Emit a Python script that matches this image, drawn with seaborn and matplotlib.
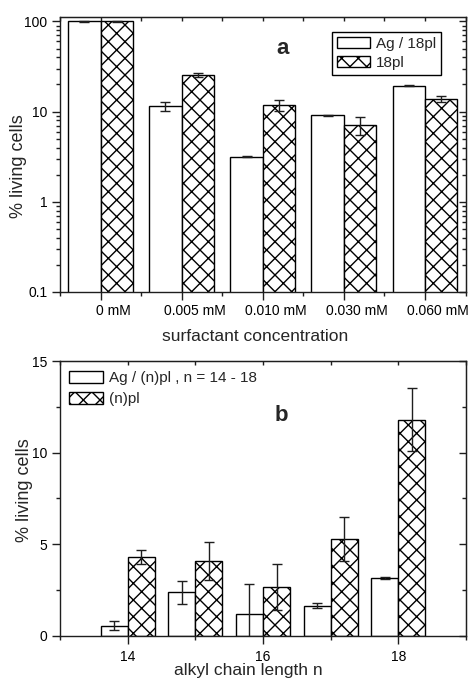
import matplotlib
matplotlib.use("Agg")
import matplotlib.pyplot as plt
import matplotlib.transforms as mtransforms
from matplotlib.patches import Patch
from matplotlib.ticker import FixedLocator, LogLocator, FuncFormatter, NullFormatter
import pandas as pd
import seaborn as sns

sns.set_style("ticks")
plt.rcParams["font.family"] = ["Liberation Sans", "DejaVu Sans"]
plt.rcParams["hatch.linewidth"] = 1.0
plt.rcParams["hatch.color"] = "black"

# Panel a: viability vs. surfactant concentration (log scale)
conc_labels = ["0 mM", "0.005 mM", "0.010 mM", "0.030 mM", "0.060 mM"]
series_a = ["Ag / 18pl", "18pl"]
ag18_mean = [100, 11.5, 3.17, 9.1, 19.4]
ag18_err = [1.5, 1.3, 0.05, 0.08, 0.2]
pl18_mean = [100, 25.5, 11.8, 7.1, 13.8]
pl18_err = [1.5, 1.0, 1.7, 1.6, 1.1]

# Panel b: viability vs. alkyl chain length
chain_n = [14, 15, 16, 17, 18]
series_b = ["Ag / (n)pl , n = 14 - 18", "(n)pl"]
agn_mean = [0.55, 2.37, 1.17, 1.64, 3.15]
agn_err = [0.23, 0.63, 1.64, 0.12, 0.04]
pln_mean = [4.28, 4.08, 2.64, 5.28, 11.8]
pln_err = [0.38, 1.06, 1.26, 1.20, 1.73]

df_a = pd.DataFrame({
    "conc": conc_labels * 2,
    "series": [series_a[0]] * 5 + [series_a[1]] * 5,
    "value": ag18_mean + pl18_mean,
})
df_b = pd.DataFrame({
    "n": chain_n * 2,
    "series": [series_b[0]] * 5 + [series_b[1]] * 5,
    "value": agn_mean + pln_mean,
})

INK = "#1e1e1e"
HATCH = "xx"

fig = plt.figure(figsize=(4.7, 6.8), dpi=100)
ax_a = fig.add_axes([0.1277, 0.5706, 0.8638, 0.4044])
ax_b = fig.add_axes([0.1277, 0.0651, 0.8638, 0.4040])


def draw_bars(ax, data, x, order, hue_order, means, errs, native):
    kw = dict(data=data, x=x, y="value", hue="series", hue_order=hue_order,
              palette=["white", "white"], saturation=1, edgecolor="black",
              linewidth=1, width=0.8, errorbar=None, legend=False, ax=ax)
    if native:
        kw["native_scale"] = True
    else:
        kw["order"] = order
    sns.barplot(**kw)
    for bar in ax.containers[1]:
        bar.set_hatch(HATCH)
    for cont, m, e in zip(ax.containers, means, errs):
        xs = [b.get_x() + b.get_width() / 2 for b in cont]
        ax.errorbar(xs, m, yerr=e, fmt="none", ecolor=INK, elinewidth=1,
                    capsize=3.5, capthick=1, zorder=5)


def style_frame(ax):
    for sp in ax.spines.values():
        sp.set_visible(True)
        sp.set_color(INK)
        sp.set_linewidth(1)


def style_ticks(ax, xpad):
    ax.tick_params(axis="both", which="major", direction="out", length=5.5,
                   width=1, color=INK, labelsize=10, labelcolor="black")
    ax.tick_params(axis="both", which="minor", direction="out", length=2.8,
                   width=1, color=INK)
    ax.tick_params(axis="y", which="major", pad=3.6)
    ax.tick_params(axis="x", which="major", pad=xpad)


def legend_handles():
    return [Patch(facecolor="white", edgecolor="black", linewidth=1),
            Patch(facecolor="white", edgecolor="black", linewidth=1, hatch=HATCH)]


# ---------------- panel a ----------------
draw_bars(ax_a, df_a, "conc", conc_labels, series_a,
          [ag18_mean, pl18_mean], [ag18_err, pl18_err], native=False)
ax_a.set_yscale("log")
ax_a.set_ylim(0.1, 112)
ax_a.set_xlim(-0.494, 4.506)
style_frame(ax_a)

ax_a.yaxis.set_major_locator(FixedLocator([0.1, 1, 10, 100]))
ax_a.yaxis.set_major_formatter(FuncFormatter(lambda v, p: f"{v:g}"))
ax_a.yaxis.set_minor_locator(LogLocator(subs=range(2, 10)))
ax_a.yaxis.set_minor_formatter(NullFormatter())
ax_a.set_xticks(range(5))
ax_a.set_xticklabels(conc_labels)
ax_a.set_xticks([i - 0.5 for i in range(6)], minor=True)
style_ticks(ax_a, xpad=2.8)
shift = mtransforms.ScaledTranslation(0.13, 0, fig.dpi_scale_trans)
for lab in ax_a.get_xticklabels():
    lab.set_transform(lab.get_transform() + shift)

sec = ax_a.secondary_yaxis("right")
sec.yaxis.set_major_locator(FixedLocator([0.1, 1, 10, 100]))
sec.yaxis.set_minor_locator(LogLocator(subs=range(2, 10)))
sec.tick_params(which="both", direction="in", labelright=False, width=1, color=INK)
sec.tick_params(which="major", length=5)
sec.tick_params(which="minor", length=3)
sec.spines["right"].set_color(INK)
sec_t = ax_a.secondary_xaxis("top")
sec_t.set_xticks(range(5))
sec_t.set_xticks([i - 0.5 for i in range(6)], minor=True)
sec_t.tick_params(which="both", direction="in", labeltop=False, length=3, width=1, color=INK)
sec_t.spines["top"].set_color(INK)

ax_a.set_xlabel("surfactant concentration", fontsize=12.5)
ax_a.set_ylabel("% living cells", fontsize=13)
ax_a.xaxis.set_label_coords(0.48, -0.135)
ax_a.yaxis.set_label_coords(-0.081, 0.458)
ax_a.text(0.549, 0.885, "a", transform=ax_a.transAxes, ha="center", va="center",
          fontsize=16, fontweight="bold")
leg_a = ax_a.legend(legend_handles(), series_a, loc="upper left",
                    bbox_to_anchor=(0.670, 0.945), frameon=True, fancybox=False,
                    edgecolor="black", framealpha=1, fontsize=11,
                    handlelength=2.2, handleheight=0.75, handletextpad=0.4,
                    borderaxespad=0, borderpad=0.3, labelspacing=0.36)
leg_a.get_frame().set_linewidth(1)

# ---------------- panel b ----------------
draw_bars(ax_b, df_b, "n", None, series_b,
          [agn_mean, pln_mean], [agn_err, pln_err], native=True)
ax_b.set_xlim(13, 19)
ax_b.set_ylim(0, 15)
style_frame(ax_b)
ax_b.set_xticks([14, 16, 18])
ax_b.set_xticklabels(["14", "16", "18"])
ax_b.set_xticks([13, 15, 17, 19], minor=True)
ax_b.set_yticks([0, 5, 10, 15])
ax_b.set_yticklabels(["0", "5", "10", "15"])
ax_b.set_yticks([2.5, 7.5, 12.5], minor=True)
style_ticks(ax_b, xpad=5)

sec_b = ax_b.secondary_yaxis("right")
sec_b.set_yticks([0, 5, 10, 15])
sec_b.set_yticks([2.5, 7.5, 12.5], minor=True)
sec_b.tick_params(which="both", direction="in", labelright=False, width=1, color=INK)
sec_b.tick_params(which="major", length=5)
sec_b.tick_params(which="minor", length=3)
sec_b.spines["right"].set_color(INK)
sec_bt = ax_b.secondary_xaxis("top")
sec_bt.set_xticks([14, 16, 18])
sec_bt.set_xticks([13, 15, 17, 19], minor=True)
sec_bt.tick_params(which="both", direction="in", labeltop=False, length=3, width=1, color=INK)
sec_bt.spines["top"].set_color(INK)

ax_b.set_xlabel("alkyl chain length n", fontsize=12.5)
ax_b.set_ylabel("% living cells", fontsize=13)
ax_b.xaxis.set_label_coords(0.463, -0.100)
ax_b.yaxis.set_label_coords(-0.066, 0.53)
ax_b.text(0.544, 0.80, "b", transform=ax_b.transAxes, ha="center", va="center",
          fontsize=16, fontweight="bold")
leg_b = ax_b.legend(legend_handles(), series_b, loc="upper left",
                    bbox_to_anchor=(0.009, 0.982), frameon=False, fontsize=11,
                    handlelength=2.2, handleheight=0.75, handletextpad=0.4,
                    borderaxespad=0, borderpad=0.35, labelspacing=0.46)

fig.savefig("out.png", dpi=100)
